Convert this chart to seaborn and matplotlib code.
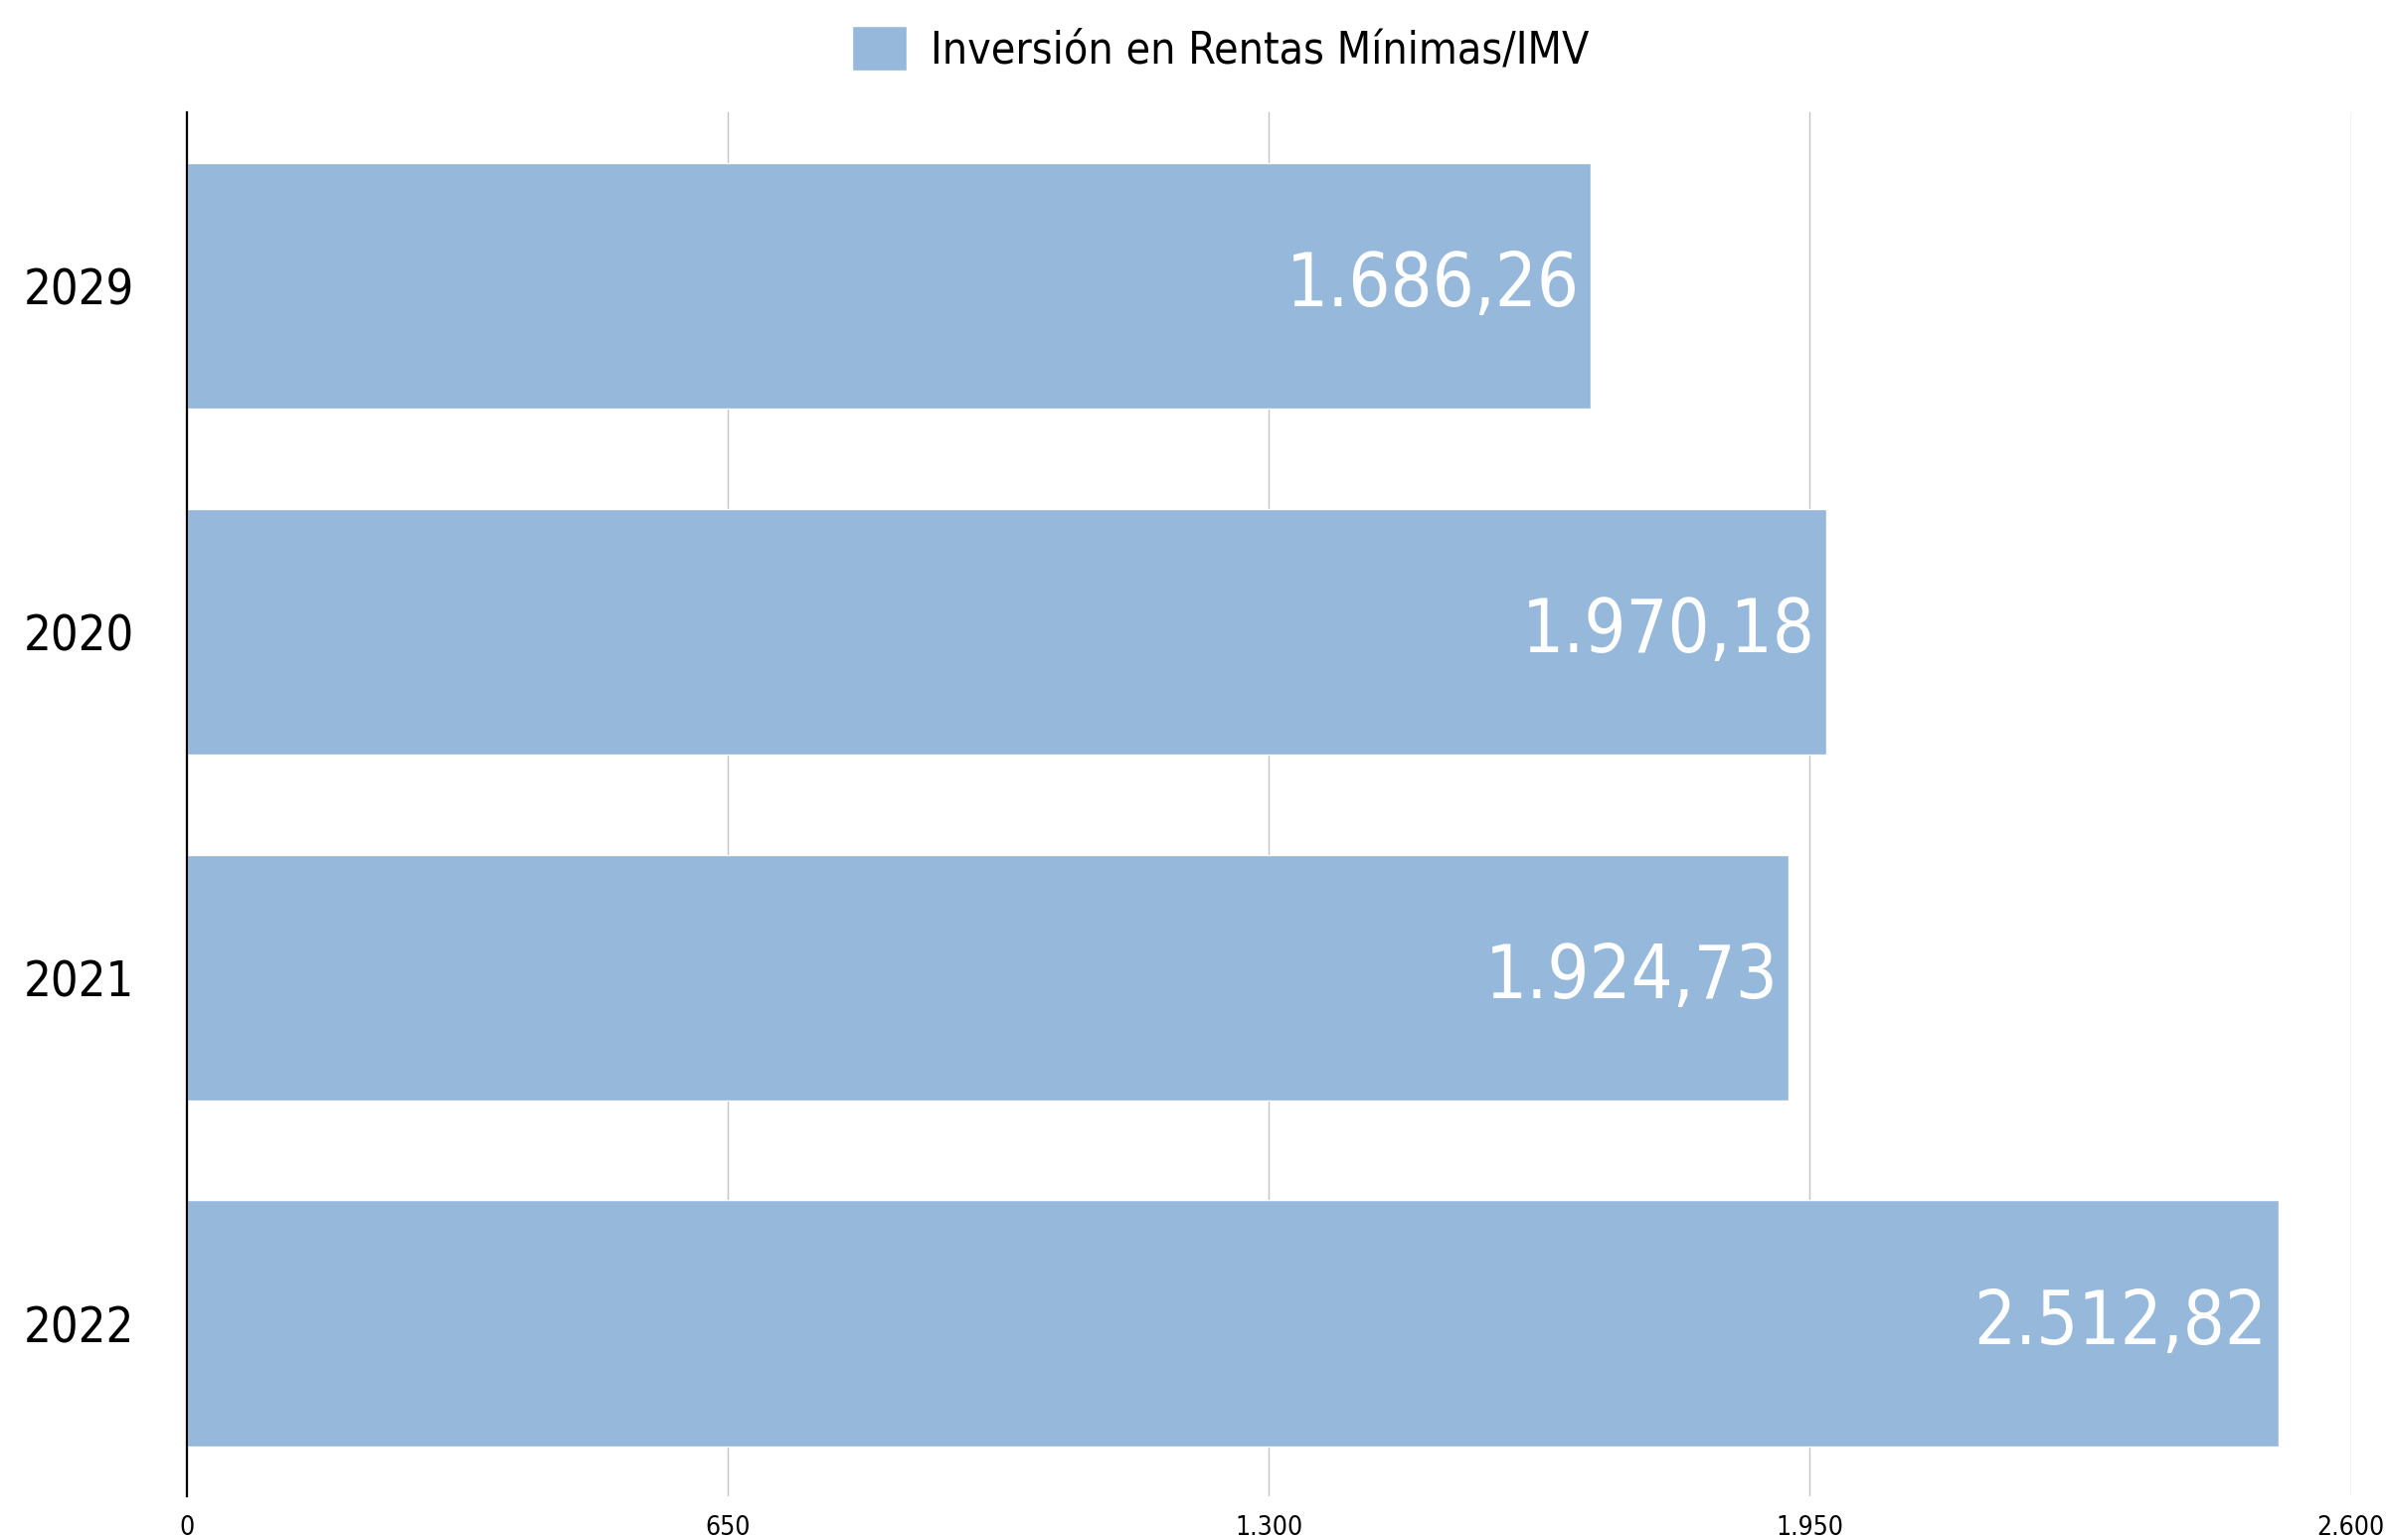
import matplotlib
matplotlib.use("Agg")
import matplotlib.pyplot as plt
import seaborn as sns
import pandas as pd

# data
years = ['2029', '2020', '2021', '2022']
inversion = [1686.26, 1970.18, 1924.73, 2512.82]
serie = 'Inversión en Rentas Mínimas/IMV'
xticks = [0, 650, 1300, 1950, 2600]

bar_color = '#96b8db'


def es_num(v, dec=2):
    # spanish style: 1.686,26
    s = f"{v:,.{dec}f}"
    return s.replace(',', 'X').replace('.', ',').replace('X', '.')


sns.set_style('white')
plt.rcParams['font.family'] = ['Liberation Sans Narrow', 'DejaVu Sans']
plt.rcParams['font.stretch'] = 'condensed'
plt.rcParams['text.color'] = 'black'
plt.rcParams['xtick.color'] = 'black'
plt.rcParams['ytick.color'] = 'black'

df = pd.DataFrame({'anio': years, 'valor': inversion})

fig = plt.figure(figsize=(24.03, 15.49), dpi=100)
ax = fig.add_axes([0.0782, 0.0284, 0.9058, 0.8986])

sns.barplot(df, x='valor', y='anio', orient='h', color=bar_color,
            saturation=1, width=0.71, label=serie, ax=ax, zorder=2)

ax.set_xlim(0, 2600)
ax.set_xticks(xticks)
ax.set_xticklabels(['0' if t == 0 else es_num(t, 0) for t in xticks])
ax.set_xlabel('')
ax.set_ylabel('')

ax.grid(axis='x', color='#c4c4c4', linewidth=1.0, zorder=0)
ax.set_axisbelow(True)
for side in ['top', 'right', 'bottom']:
    ax.spines[side].set_visible(False)
ax.spines['left'].set_color('black')
ax.spines['left'].set_linewidth(1.6)
ax.spines['left'].set_zorder(3)

ax.tick_params(axis='x', length=0, pad=14, labelsize=19)
ax.tick_params(axis='y', length=0, pad=38, labelsize=35)

labels = ax.bar_label(ax.containers[0], labels=[es_num(v) for v in inversion],
                      padding=-8, color='white', fontsize=53)
for t in labels:
    t.set_ha('right')

ax.legend(loc='center', bbox_to_anchor=(0.511, 0.968), bbox_transform=fig.transFigure,
          frameon=False, fontsize=32, handlelength=1.22, handleheight=1.17,
          handletextpad=0.55)

fig.savefig('out.png', dpi=100)
